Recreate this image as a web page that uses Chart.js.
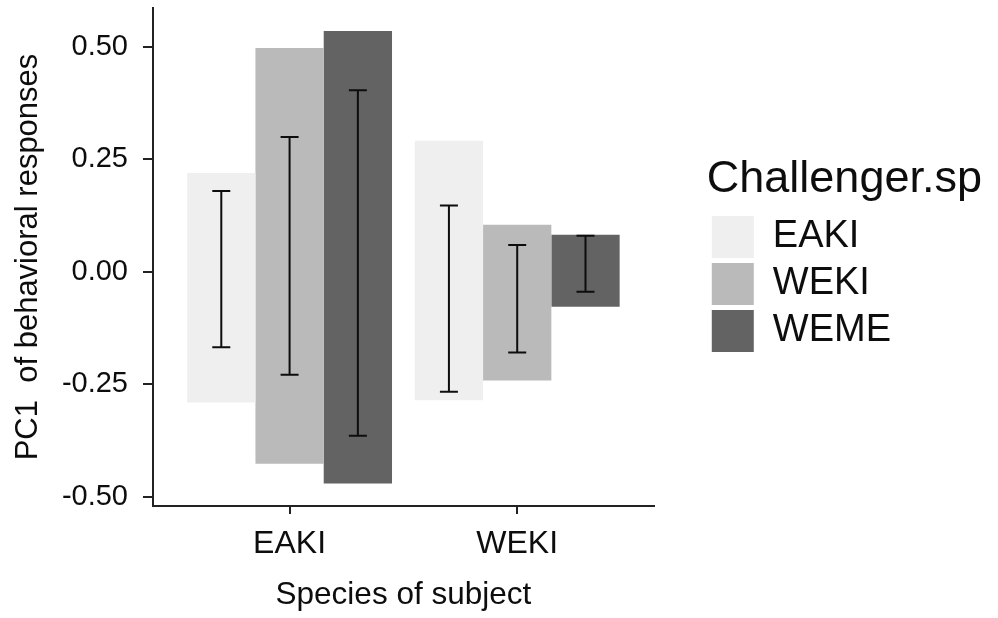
<!DOCTYPE html>
<html>
<head>
<meta charset="utf-8">
<script src="https://cdn.jsdelivr.net/npm/chart.js"></script>
<style>
  html, body { margin: 0; padding: 0; background: #fff; }
  #wrap { width: 998px; height: 618px; }
</style>
</head>
<body>
<div id="wrap"><canvas id="pcChart" width="998" height="618"></canvas></div>
<script>
// data
const subjects = ["EAKI", "WEKI"];
const challengers = ["EAKI", "WEKI", "WEME"];

// bar spans [low, high] per subject
const rangeEAKI = [[-0.291, 0.219], [-0.286, 0.291]];
const rangeWEKI = [[-0.427, 0.497], [-0.242, 0.104]];
const rangeWEME = [[-0.471, 0.535], [-0.078, 0.082]];

// error bars [low, high] per subject
const errEAKI = [[-0.168, 0.179], [-0.267, 0.147]];
const errWEKI = [[-0.229, 0.299], [-0.180, 0.059]];
const errWEME = [[-0.365, 0.403], [-0.045, 0.080]];

const yTickValues = [-0.5, -0.25, 0, 0.25, 0.5];

const FONT = '"Liberation Sans", Arial, sans-serif';
const INK = "#0d0d0d";

const ranges = [rangeEAKI, rangeWEKI, rangeWEME];
const errors = [errEAKI, errWEKI, errWEME];
const fills = ["#efefef", "#bababa", "#636363"];

// error bars drawn on top of the bars using the chart scales
const errorBarPlugin = {
  id: "errorBars",
  afterDatasetsDraw(chart) {
    const ctx = chart.ctx;
    const yScale = chart.scales.y;
    ctx.save();
    ctx.strokeStyle = INK;
    ctx.lineWidth = 2;
    errors.forEach((errSet, d) => {
      const meta = chart.getDatasetMeta(d);
      meta.data.forEach((bar, j) => {
        const yLo = yScale.getPixelForValue(errSet[j][0]);
        const yHi = yScale.getPixelForValue(errSet[j][1]);
        const half = 9;
        ctx.beginPath();
        ctx.moveTo(bar.x, yLo);
        ctx.lineTo(bar.x, yHi);
        ctx.moveTo(bar.x - half, yLo);
        ctx.lineTo(bar.x + half, yLo);
        ctx.moveTo(bar.x - half, yHi);
        ctx.lineTo(bar.x + half, yHi);
        ctx.stroke();
      });
    });
    ctx.restore();
  },
};

// legend box is only as wide as its items, let the title run past it
const legendRoomPlugin = {
  id: "legendRoom",
  afterLayout(chart) {
    const lg = chart.legend;
    if (lg) {
      lg.right = chart.width;
      lg.width = lg.right - lg.left;
    }
  },
};

const datasets = challengers.map((name, d) => ({
  label: name,
  data: ranges[d].map((r, i) => ({ x: i + 1, y: r })),
  backgroundColor: fills[d],
  borderWidth: 0,
  borderSkipped: false,
  categoryPercentage: 0.9,
  barPercentage: 1.0,
}));

const ctx = document.getElementById("pcChart").getContext("2d");
new Chart(ctx, {
  type: "bar",
  data: { datasets: datasets },
  options: {
    responsive: false,
    animation: false,
    devicePixelRatio: 1,
    layout: { padding: { top: 8, right: 97, bottom: 0, left: 0 } },
    plugins: {
      tooltip: { enabled: false },
      legend: {
        position: "right",
        align: "center",
        fullSize: false,
        maxWidth: 400,
        title: {
          display: true,
          text: "Challenger.sp",
          position: "start",
          color: INK,
          padding: 0,
          font: { family: FONT, size: 45 },
        },
        labels: {
          boxWidth: 42,
          boxHeight: 42,
          padding: 5,
          color: INK,
          font: { family: FONT, size: 38 },
        },
      },
    },
    scales: {
      x: {
        type: "linear",
        min: 0.4,
        max: 2.6,
        offset: false,
        afterBuildTicks: (s) => {
          s.ticks = subjects.map((_, i) => ({ value: i + 1 }));
        },
        afterFit: (s) => {
          s.height = 112;
          s.paddingLeft = 0;
          s.paddingRight = 0;
        },
        ticks: {
          color: INK,
          padding: 11,
          font: { family: FONT, size: 32 },
          callback: (v) => subjects[v - 1] || "",
        },
        grid: {
          offset: false,
          drawOnChartArea: false,
          drawTicks: true,
          tickLength: 8,
          color: "#222",
          lineWidth: 2,
        },
        border: { display: true, color: "#222", width: 2 },
        title: {
          display: true,
          text: "Species of subject",
          color: INK,
          padding: { top: 0, bottom: 4 },
          font: { family: FONT, size: 31.5 },
        },
      },
      y: {
        type: "linear",
        min: -0.521,
        max: 0.586,
        afterBuildTicks: (s) => {
          s.ticks = yTickValues.map((v) => ({ value: v }));
        },
        afterFit: (s) => {
          s.width = 153;
          s.paddingTop = 0;
          s.paddingBottom = 0;
        },
        ticks: {
          color: INK,
          padding: 15,
          font: { family: FONT, size: 29 },
          callback: (v) => v.toFixed(2),
        },
        grid: {
          drawOnChartArea: false,
          drawTicks: true,
          tickLength: 10,
          color: "#222",
          lineWidth: 2,
        },
        border: { display: true, color: "#222", width: 2 },
        title: {
          display: true,
          text: "PC1  of behavioral responses",
          color: INK,
          padding: { top: 10, bottom: 0 },
          font: { family: FONT, size: 31 },
        },
      },
      // empty spacer between the panel and the legend
      gap: {
        type: "linear",
        position: "right",
        display: true,
        grid: { display: false },
        border: { display: false },
        ticks: { display: false },
        afterFit: (s) => {
          s.width = 53;
          s.paddingTop = 0;
          s.paddingBottom = 0;
        },
      },
    },
  },
  plugins: [errorBarPlugin, legendRoomPlugin],
});
</script>
</body>
</html>
